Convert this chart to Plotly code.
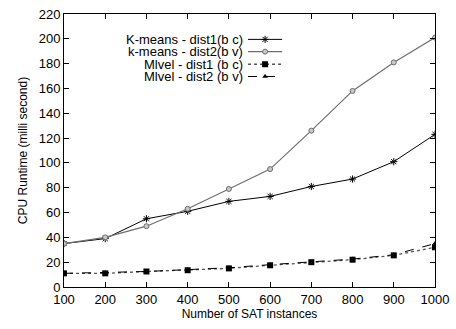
import plotly.graph_objects as go

# Number of SAT instances
instances = [100, 200, 300, 400, 500, 600, 700, 800, 900, 1000]

# CPU runtime (milli second) per method / distribution
kmeans_dist1 = [35, 39, 55, 61, 69, 73, 81, 87, 101, 123]
kmeans_dist2 = [35, 40, 49, 63, 79, 95, 126, 158, 181, 201]
mlvel_dist1 = [11, 11, 12.5, 13.5, 15, 17.5, 20, 22, 25.5, 32]
mlvel_dist2 = [11, 11.5, 12.5, 14, 15.5, 18, 20, 22.5, 26, 35]

series_names = ["K-means - dist1(b c)", "k-means - dist2(b v)",
                "Mlvel - dist1 (b c)", "Mlvel - dist2 (b v)"]

styles = [
    dict(line=dict(color="black", width=1, dash="solid"),
         marker=dict(symbol="asterisk-open", size=6, color="black",
                     line=dict(color="black", width=1))),
    dict(line=dict(color="#6e6e6e", width=1.2, dash="solid"),
         marker=dict(symbol="circle", size=5, color="#c8c8c8",
                     line=dict(color="#6e6e6e", width=1))),
    dict(line=dict(color="#555555", width=1.3, dash="dot"),
         marker=dict(symbol="square", size=6, color="black",
                     line=dict(color="black", width=0))),
    dict(line=dict(color="black", width=1, dash="dash"),
         marker=dict(symbol="triangle-up", size=5, color="black",
                     line=dict(color="black", width=0))),
]

data = [kmeans_dist1, kmeans_dist2, mlvel_dist1, mlvel_dist2]

fig = go.Figure()
for name, ys, st in zip(series_names, data, styles):
    fig.add_trace(go.Scatter(x=instances, y=ys, mode="lines+markers",
                             name=name, showlegend=False, **st))

# Key drawn inside the plot: label on the left, line sample on the right
legend_rows = [0.907, 0.862, 0.816, 0.771]
for name, yrow, st in zip(series_names, legend_rows, styles):
    fig.add_trace(go.Scatter(x=[0.496, 0.588], y=[yrow, yrow], mode="lines",
                             line=st["line"], xaxis="x2", yaxis="y2",
                             showlegend=False, hoverinfo="skip"))
    fig.add_trace(go.Scatter(x=[0.542], y=[yrow], mode="markers",
                             marker=st["marker"], xaxis="x2", yaxis="y2",
                             showlegend=False, hoverinfo="skip"))
    fig.add_annotation(x=0.485, y=yrow, xref="x2", yref="y2", text=name,
                       showarrow=False, xanchor="right", yanchor="middle",
                       borderpad=0, font=dict(size=13, color="black"))

axis_common = dict(showline=True, linecolor="black", linewidth=1, mirror="ticks",
                   ticks="inside", ticklen=5, tickcolor="black", showgrid=False,
                   zeroline=False, ticklabeloverflow="allow",
                   tickfont=dict(size=13, color="black"))

fig.update_layout(
    width=456, height=329,
    margin=dict(l=64, r=13, t=7, b=42),
    paper_bgcolor="white", plot_bgcolor="white",
    font=dict(family="Liberation Sans, Arial, sans-serif", color="black"),
    xaxis=dict(range=[100, 1000], tickvals=instances, **axis_common,
               title=dict(text="Number of SAT instances", font=dict(size=12), standoff=4)),
    yaxis=dict(range=[0, 220], dtick=20, **axis_common,
               title=dict(text="CPU Runtime (milli second)", font=dict(size=12), standoff=8)),
    xaxis2=dict(overlaying="x", range=[0, 1], visible=False),
    yaxis2=dict(overlaying="y", range=[0, 1], visible=False),
)

fig.write_html("out.html")
